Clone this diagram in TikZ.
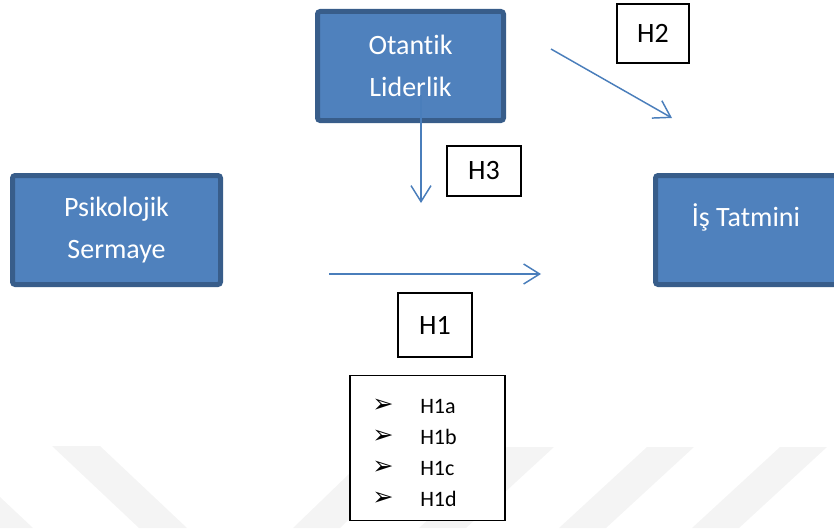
\documentclass[tikz,border=0pt]{standalone}
\usepackage{fontspec}
\setmainfont{Carlito}[Ligatures=NoCommon]
\newfontfamily\dingfont{DejaVu Sans}
\usetikzlibrary{arrows.meta}
\definecolor{boxfill}{RGB}{79,129,189}
\definecolor{boxline}{RGB}{56,93,138}
\definecolor{arrblue}{RGB}{74,126,187}
\definecolor{wm}{RGB}{244,244,244}

\begin{document}
\begin{tikzpicture}[x=0.75pt, y=-0.75pt,
    blk/.style={rounded corners=2pt, draw=boxline, fill=boxfill, line width=3.75pt,
                text=white, font=\fontsize{21}{31}\selectfont, align=center, inner sep=0pt},
    hbox/.style={draw=black, line width=0.8pt, fill=white,
                 font=\fontsize{21}{25}\selectfont, inner sep=0pt},
    arr/.style={-{Straight Barb[length=12pt,width=15pt]}, arrblue, line width=1.1pt},
    item/.style={anchor=west, font=\fontsize{16.5}{18}\selectfont, inner sep=0pt}]

    \useasboundingbox (0,0) rectangle (834,528);
    \clip (0,0) rectangle (834,528);

    % faint watermark stripes
    \fill[wm] (0,497) -- (33,528) -- (0,528) -- cycle;
    \fill[wm] (52,446) -- (100,446) -- (187,528) -- (139,528) -- cycle;
    \fill[wm] (377,447) -- (424,447) -- (340,528) -- (293,528) -- cycle;
    \fill[wm] (507,447) -- (554,447) -- (466,528) -- (419,528) -- cycle;
    \fill[wm] (647,447) -- (694,447) -- (606,528) -- (559,528) -- cycle;
    \fill[wm] (780,447) -- (827,447) -- (739,528) -- (692,528) -- cycle;

    % variables
    \node[blk, minimum width=139.5pt, minimum height=81.75pt] (otantik)  at (410.5,66) {Otantik\\Liderlik};
    \node[blk, minimum width=156pt,   minimum height=81.75pt] (psiko)    at (116.5,230) {Psikolojik\\Sermaye};
    \node[blk, minimum width=156pt,   minimum height=81.75pt] (istatmin) at (759.5,230) {};
    \node[text=white, font=\fontsize{21}{25}\selectfont, inner sep=0pt] (istext) at (746,217) {İş Tatmini};

    % hypotheses
    \node[hbox, minimum width=54pt,   minimum height=44.25pt] (h2) at (653,33.5) {H2};
    \node[hbox, minimum width=55.5pt, minimum height=37.5pt]  (h3) at (484,171) {H3};
    \node[hbox, minimum width=55.5pt, minimum height=48pt]    (h1) at (435,325) {H1};

    % sub-hypotheses list
    \node[hbox, minimum width=116.25pt, minimum height=108.75pt] (h1list) at (427.5,448) {};
    \foreach \s [count=\i] in {a,b,c,d} {
      \node[item] (bul\s) at (372,375+31*\i) {\dingfont\fontsize{19}{19}\selectfont ➢};
      \node[item] (h1\s)  at (420,375+31*\i) {H1\s};
    }

    % arrows
    \coordinate (h2s) at (551,49);
    \coordinate (h2e) at (672,118);
    \coordinate (h3s) at (421,95);
    \coordinate (h3e) at (421,203);
    \coordinate (h1s) at (329,274);
    \coordinate (h1e) at (541,274);

    \draw[arr] (h2s) -- (h2e);
    \draw[arr] (h3s) -- (h3e);
    \draw[arr] (h1s) -- (h1e);
\end{tikzpicture}
\end{document}
